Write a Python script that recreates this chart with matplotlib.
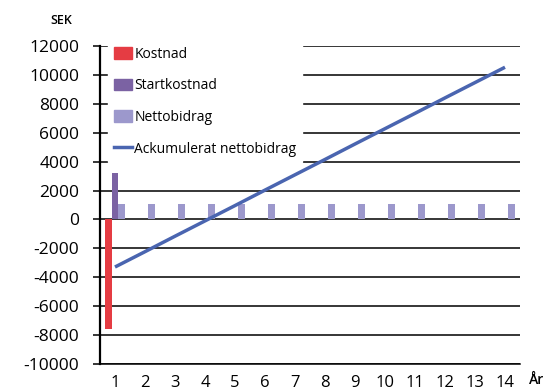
import matplotlib.pyplot as plt
from matplotlib.patches import Patch
from matplotlib.lines import Line2D

plt.rcParams['font.family'] = ['Open Sans', 'DejaVu Sans']
plt.rcParams['axes.unicode_minus'] = False

years = list(range(1, 15))
kostnad = [-7600]
startkostnad = [3200]
nettobidrag = [1100] * 14
ackumulerat = [-3290, -2230, -1160, -100, 960, 2030, 3090,
               4150, 5220, 6280, 7340, 8410, 9470, 10530]

c_kost = '#e53c43'
c_start = '#7b62a3'
c_netto = '#9c98cc'
c_line = '#4a65b0'

fig = plt.figure(figsize=(5.47, 3.91), dpi=100)
ax = fig.add_axes([100/547, 1-364/391, 420/547, 318/391])

w = 0.22
ax.bar([years[0] - w], kostnad, width=w, color=c_kost, zorder=3)
ax.bar([years[0]], startkostnad, width=w, color=c_start, zorder=3)
ax.bar([y + w for y in years], nettobidrag, width=w, color=c_netto, zorder=3)
ax.plot(years, ackumulerat, color=c_line, lw=2.5, zorder=4, solid_capstyle='butt')

ax.set_xlim(0.5, 14.5)
ax.set_ylim(-10000, 12000)
ax.set_yticks(range(-10000, 12001, 2000))
ax.set_xticks(years)
ax.grid(axis='y', color='black', lw=1.1, zorder=1)
ax.set_axisbelow(True)

for s in ['top', 'right']:
    ax.spines[s].set_visible(False)
ax.spines['left'].set_linewidth(1.6)
ax.spines['bottom'].set_linewidth(1.1)
ax.tick_params(axis='y', length=5, width=1.1, labelsize=12.5, pad=10)
ax.tick_params(axis='x', length=0, labelsize=12, pad=8)

fig.text(61/547, 1-20/391, 'SEK', fontsize=9, fontweight='semibold',
         ha='center', va='center')
fig.text(537/547, 1-380/391, 'År', fontsize=10, fontweight='semibold',
         ha='center', va='center')

handles = [Patch(color=c_kost), Patch(color=c_start), Patch(color=c_netto),
           Line2D([], [], color=c_line, lw=2.5)]
labels = ['Kostnad', 'Startkostnad', 'Nettobidrag', 'Ackumulerat nettobidrag']
leg = ax.legend(handles, labels, loc='upper left',
                bbox_to_anchor=(108/547, 1-41/391), bbox_transform=fig.transFigure,
                fontsize=10, frameon=True, fancybox=False, framealpha=1,
                edgecolor='white', handlelength=1.3, handleheight=0.9,
                handletextpad=0.2, labelspacing=1.2, borderpad=0.4,
                borderaxespad=0)

fig.savefig('out.png', dpi=100)
